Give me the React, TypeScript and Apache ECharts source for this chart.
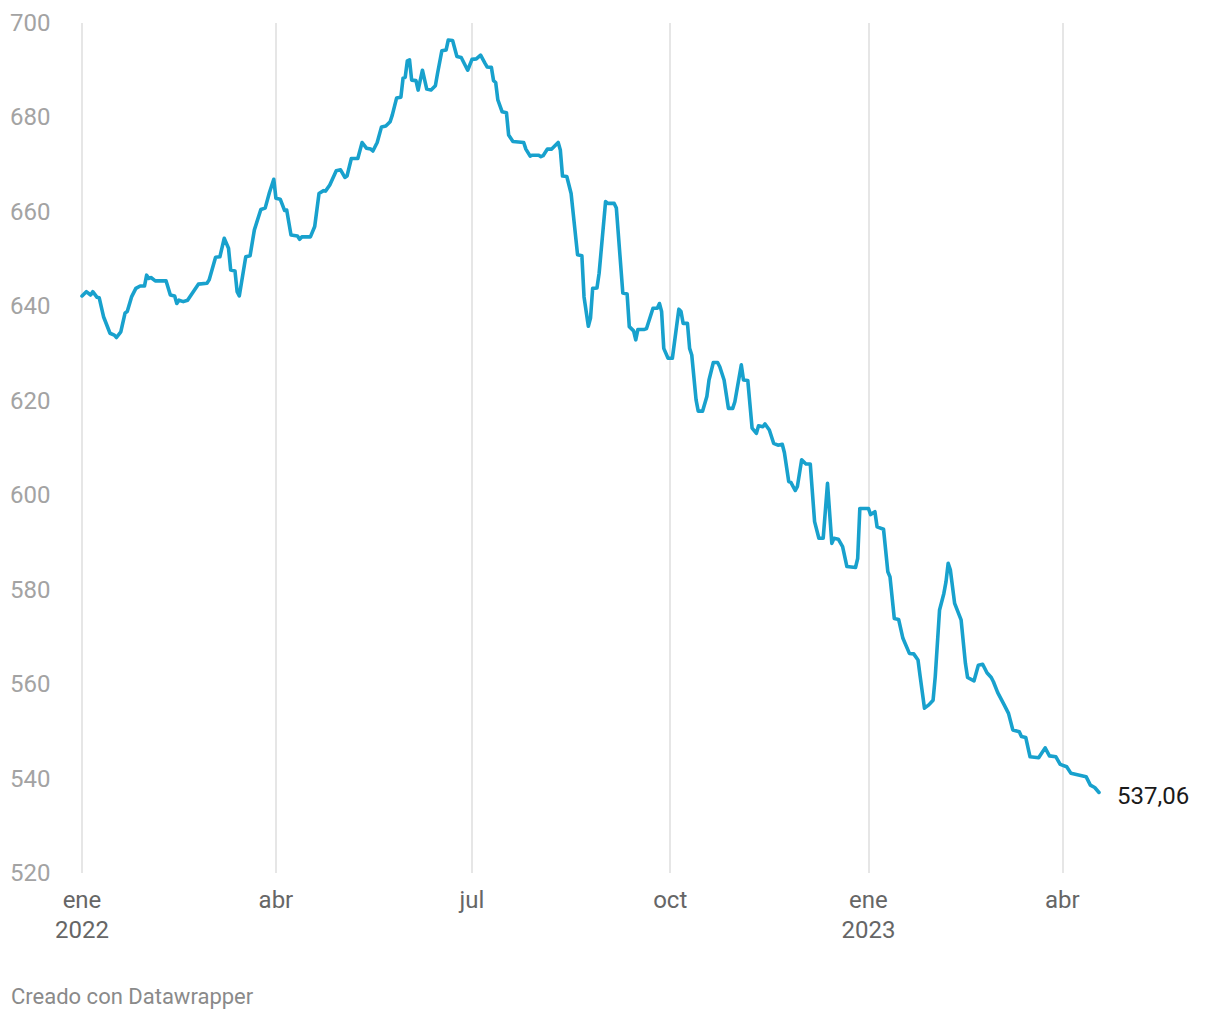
import React, { useEffect, useRef } from "react";
import * as echarts from "echarts";

// Days since 2022-01-01 and the index value on that day
const dayOffsets = [
  0, 2, 4, 5, 7, 8, 10, 13, 15, 16, 18, 20, 21, 23, 25, 27, 29, 30, 31, 32, 34, 39, 41, 43, 44, 45, 47, 49, 54, 58, 59,
  62, 64, 66, 68, 69, 71, 72, 73, 76, 78, 80, 83, 85, 87, 89, 90, 92, 94, 95, 97, 100, 101, 102, 106, 108, 110, 112, 113,
  115, 118, 120, 122, 123, 125, 128, 130, 132, 134, 135, 137, 139, 141, 143, 144, 146, 148, 149, 150, 151, 152, 153, 155,
  156, 158, 160, 162, 164, 165, 167, 169, 170, 172, 174, 176, 179, 181, 183, 185, 187, 188, 190, 191, 192, 193, 195, 197,
  198, 200, 205, 206, 208, 209, 212, 213, 214, 216, 218, 221, 222, 223, 225, 227, 230, 232, 233, 235, 236, 237, 239, 240,
  243, 244, 247, 248, 251, 253, 254, 256, 257, 258, 261, 262, 265, 267, 268, 269, 270, 272, 274, 277, 278, 279, 281, 282,
  283, 285, 286, 288, 290, 291, 293, 295, 296, 298, 300, 302, 303, 306, 307, 309, 311, 313, 314, 316, 317, 319, 321, 323,
  325, 326, 328, 329, 331, 332, 334, 336, 338, 340, 342, 344, 346, 348, 349, 351, 353, 355, 359, 360, 361, 365, 366, 368,
  369, 372, 374, 375, 377, 379, 381, 384, 386, 388, 389, 391, 393, 395, 396, 398, 400, 401, 402, 403, 405, 408, 410, 411,
  414, 416, 418, 420, 422, 423, 425, 428, 430, 432, 435, 436, 438, 440, 444, 447, 449, 452, 454, 457, 459, 466, 468, 470,
  472,
];

const values = [
  642.2, 643.1, 642.4, 643.1, 641.9, 641.8, 637.8, 634.3, 633.9, 633.4, 634.6, 638.6, 638.9, 642.0, 643.8, 644.3, 644.3,
  646.6, 645.9, 646.1, 645.4, 645.4, 642.4, 642.2, 640.6, 641.3, 641.0, 641.3, 644.7, 644.9, 645.6,
  650.4, 650.5, 654.4, 652.3, 647.7, 647.5, 643.1, 642.2, 650.5, 650.7, 656.2, 660.5, 660.8, 664.1, 666.9, 662.9, 662.7,
  660.3, 660.4, 655.1, 654.9, 654.2, 654.7, 654.7, 656.9, 663.9, 664.5, 664.4,
  665.7, 668.7, 668.9, 667.3, 667.6, 671.3, 671.3, 674.7, 673.5, 673.3, 672.9, 674.7, 678.0, 678.2, 679.1, 680.5, 684.1,
  684.3, 688.3, 688.5, 692.0, 692.2, 687.9, 687.8,
  685.8, 690.0, 686.0, 685.8, 686.7, 689.3, 694.1, 694.3, 696.4, 696.3, 692.9, 692.7, 690.0, 692.3, 692.4, 693.2, 691.5,
  690.7, 690.6, 687.8, 687.4, 683.7, 681.2, 681.0,
  676.3, 674.9, 674.7, 673.3, 671.8, 672.0, 672.0, 671.7, 671.9, 673.3, 673.3, 674.7, 673.1, 667.6, 667.5, 663.9, 650.9,
  650.7, 642.0, 635.8, 637.5, 643.8, 643.9, 647.0,
  662.2, 661.8, 661.8, 660.8, 642.8, 642.6, 635.7, 634.8, 632.9, 635.1, 635.1, 635.3, 639.6, 639.6, 640.6, 638.9, 631.1,
  629.0, 629.0, 639.4, 638.9, 636.4, 636.4, 631.1,
  629.7, 620.2, 617.8, 617.8, 620.9, 624.4, 628.1, 628.1, 627.2, 624.4, 618.4, 618.4, 619.8, 627.6, 624.4, 624.3, 614.2,
  613.1, 614.7, 614.5, 615.1, 613.8, 611.0, 610.6,
  610.8, 609.0, 602.9, 602.7, 601.0, 601.8, 607.5, 606.6, 606.6, 594.4, 590.9, 590.9, 602.5, 589.8, 590.9, 590.7, 589.1,
  584.9, 584.7, 586.6, 597.2, 597.2, 595.9, 596.5,
  593.3, 592.8, 583.8, 582.7, 573.9, 573.7, 569.7, 566.5, 566.4, 565.1, 561.6, 554.9, 555.6, 556.6, 561.6, 575.7, 579.2,
  581.7, 585.6, 584.2, 577.1, 573.6, 564.4, 561.4,
  560.7, 564.0, 564.2, 562.4, 561.4, 560.5, 558.2, 555.6, 553.8, 550.3, 549.9, 548.9, 548.7, 544.6, 544.4, 546.5, 544.8,
  544.6, 543.0, 542.5, 541.1, 540.4, 538.6, 538.1,
  537.06,
];

// Quarter starts shown on the x axis: [year, monthIndex]
const xTickDates: [number, number][] = [
  [2022, 0],
  [2022, 3],
  [2022, 6],
  [2022, 9],
  [2023, 0],
  [2023, 3],
];
const monthNames = ["ene", "feb", "mar", "abr", "may", "jun", "jul", "ago", "sep", "oct", "nov", "dic"];
const endLabelText = "537,06";
const footerText = "Creado con Datawrapper";

const yMin = 520;
const yMax = 700;
const yStep = 20;

const DAY = 86400000;
const BASE = Date.UTC(2022, 0, 1);

export default function App() {
  const ref = useRef<HTMLDivElement>(null);

  useEffect(() => {
    if (!ref.current) return;
    const chart = echarts.init(ref.current, undefined, { renderer: "svg" });
    const data = dayOffsets.map((d, i) => [d, values[i]]);
    const ticks = xTickDates.map(([y, m]) => Math.round((Date.UTC(y, m, 1) - BASE) / DAY));
    const font = "Roboto, 'Noto Sans', sans-serif";

    chart.setOption({
      animation: false,
      backgroundColor: "#ffffff",
      grid: { left: 82, right: 121, top: 23, bottom: 147 },
      xAxis: {
        type: "value",
        min: 0,
        max: dayOffsets[dayOffsets.length - 1],
        axisLine: { show: false },
        axisTick: { show: false, customValues: ticks },
        splitLine: { show: true, lineStyle: { color: "#e6e6e6", width: 2 } },
        axisLabel: {
          customValues: ticks,
          showMinLabel: true,
          showMaxLabel: true,
          hideOverlap: false,
          margin: 12,
          color: "#666666",
          fontFamily: font,
          fontSize: 24,
          lineHeight: 30,
          formatter: (v: number) => {
            const d = new Date(BASE + v * DAY);
            const m = d.getUTCMonth();
            return m === 0 ? monthNames[m] + "\n" + d.getUTCFullYear() : monthNames[m];
          },
        },
      },
      yAxis: {
        type: "value",
        min: yMin,
        max: yMax,
        interval: yStep,
        axisLine: { show: false },
        axisTick: { show: false },
        splitLine: { show: false },
        axisLabel: {
          align: "left",
          margin: 72,
          color: "#a3a3a3",
          fontFamily: font,
          fontSize: 24,
        },
      },
      series: [
        {
          type: "line",
          data,
          showSymbol: false,
          symbol: "none",
          lineStyle: { color: "#18a1cd", width: 3.6, join: "round", cap: "round" },
          endLabel: {
            show: true,
            formatter: () => endLabelText,
            color: "#1a1a1a",
            fontFamily: font,
            fontSize: 24,
            distance: 18,
            offset: [0, 4],
          },
        },
      ],
      graphic: [
        {
          type: "text",
          left: 11,
          top: 985,
          style: { text: footerText, fill: "#8a8a8a", font: `22px ${font}` },
        },
      ],
    });

    return () => chart.dispose();
  }, []);

  return <div ref={ref} style={{ position: "fixed", left: 0, top: 0, width: 1220, height: 1020 }} />;
}
